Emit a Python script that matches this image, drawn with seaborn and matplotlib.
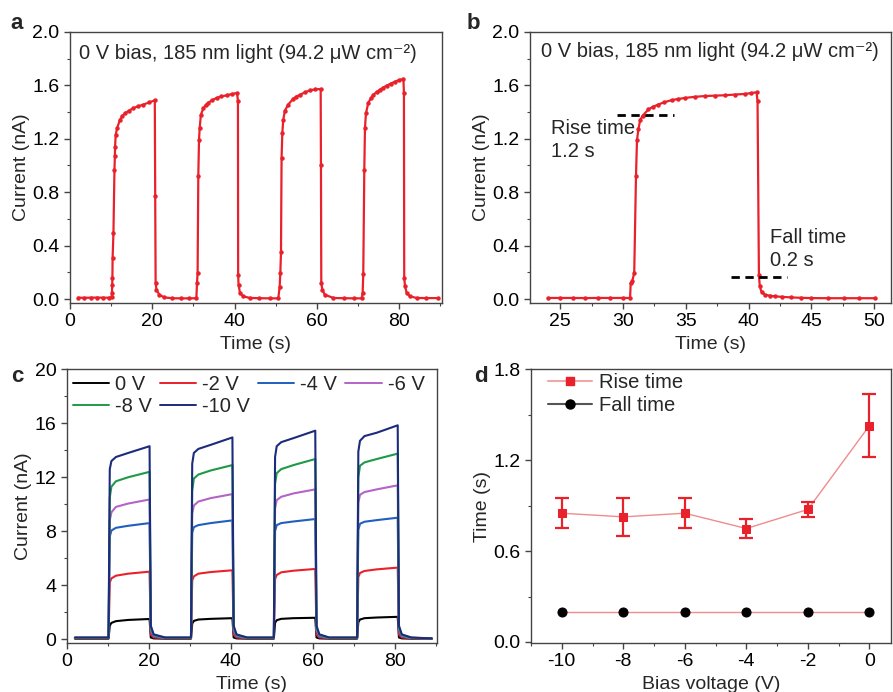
import matplotlib
matplotlib.use("Agg")
import matplotlib.pyplot as plt
from matplotlib.lines import Line2D
from matplotlib.ticker import MultipleLocator, FormatStrFormatter
import seaborn as sns
import pandas as pd

# ---------------- data ----------------
# panel a: 0 V bias, four on/off cycles (time s, current nA)
time_a = [2.0, 3.5, 5.0, 6.5, 8.0, 9.5, 10.1,
          10.2, 10.25, 10.3, 10.35, 10.55, 10.8, 10.9, 10.95, 11.1, 11.45, 12.1, 12.7, 13.3, 14.3, 15.4, 16.6, 17.8, 19.2, 20.6,
          20.7, 20.8, 21.0, 21.7, 22.9, 24.9, 27.0, 29.0, 30.7,
          30.85, 31.0, 31.17, 31.34, 31.5, 31.8, 32.4, 33.0, 33.6, 34.6, 35.6, 36.8, 38.1, 39.3, 40.6,
          40.8, 40.85, 40.95, 41.3, 42.1, 43.7, 46.0, 48.5, 50.6,
          50.93, 51.1, 51.26, 51.4, 51.58, 51.8, 52.2, 53.0, 54.25, 55.0, 55.9, 57.1, 58.3, 59.6, 60.9,
          60.97, 61.05, 61.3, 61.9, 64.0, 66.5, 69.0, 70.85,
          71.1, 71.25, 71.5, 71.66, 71.9, 72.47, 73.1, 73.7, 74.5, 75.3, 76.1, 76.9, 77.9, 78.95, 80.0, 81.0,
          81.13, 81.2, 81.4, 81.8, 82.6, 84.2, 86.5, 89.5]
current_a = [0.010, 0.009, 0.010, 0.011, 0.010, 0.010, 0.012,
             0.045, 0.107, 0.157, 0.307, 0.494, 0.969, 1.07, 1.14, 1.23, 1.28, 1.34, 1.37, 1.39, 1.41, 1.43, 1.444, 1.456, 1.472, 1.488,
             0.77, 0.12, 0.07, 0.032, 0.012, 0.006, 0.005, 0.005, 0.006,
             0.12, 0.195, 0.92, 1.19, 1.28, 1.38, 1.43, 1.452, 1.47, 1.49, 1.506, 1.517, 1.526, 1.535, 1.543,
             1.48, 0.18, 0.107, 0.045, 0.02, 0.008, 0.006, 0.005, 0.005,
             0.09, 0.195, 0.35, 1.056, 1.24, 1.34, 1.41, 1.456, 1.50, 1.516, 1.53, 1.548, 1.563, 1.57, 1.573,
             1.006, 0.12, 0.07, 0.032, 0.008, 0.006, 0.005, 0.005,
             0.045, 0.19, 0.964, 1.28, 1.39, 1.47, 1.503, 1.53, 1.55, 1.568, 1.584, 1.598, 1.613, 1.628, 1.64, 1.648,
             1.54, 0.157, 0.095, 0.045, 0.02, 0.008, 0.007, 0.007]

# panel b: single cycle
time_b = [24.07, 25.0, 26.0, 27.0, 28.0, 29.0, 30.0, 30.57,
          30.62, 30.75, 30.9, 31.04, 31.12, 31.23, 31.37, 31.57, 32.03, 32.4, 32.8, 33.3, 33.9, 34.4, 34.94, 35.7, 36.5,
          37.3, 38.1, 38.9, 39.7, 40.2, 40.64,
          40.72, 40.83, 40.9, 41.04, 41.3, 41.7, 42.1, 42.7, 43.4, 44.2, 45.0, 46.3, 47.6, 48.8, 50.05]
current_b = [0.008, 0.008, 0.008, 0.007, 0.008, 0.008, 0.008, 0.008,
             0.12, 0.137, 0.195, 0.92, 1.19, 1.27, 1.34, 1.373, 1.42, 1.44, 1.456, 1.474, 1.49, 1.498, 1.506, 1.514, 1.52,
             1.523, 1.526, 1.531, 1.536, 1.542, 1.548,
             1.48, 0.177, 0.095, 0.052, 0.032, 0.025, 0.02, 0.016, 0.012, 0.009, 0.007, 0.006, 0.006, 0.006, 0.006]
rise_mark_x = [29.5, 34.1]
rise_mark_y = [1.38, 1.38]
fall_mark_x = [38.6, 43.1]
fall_mark_y = [0.165, 0.165]

# panel c: bias-dependent photoresponse
time_c = [2.0,
          10.2, 10.5, 10.9, 12.0, 15.0, 20.2, 20.5, 21.2, 24.0,
          30.3, 30.6, 31.0, 32.1, 35.1, 40.4, 40.7, 41.4, 44.0,
          50.5, 50.8, 51.2, 52.3, 55.3, 60.6, 60.9, 61.6, 64.0,
          70.8, 71.1, 71.5, 72.6, 75.6, 80.7, 81.0, 81.7, 84.0,
          89.0]
cur_0V = [0.03,
          0.03, 1.0, 1.2, 1.33, 1.42, 1.49, 0.12, 0.05, 0.03,
          0.03, 1.15, 1.35, 1.45, 1.50, 1.55, 0.12, 0.05, 0.03,
          0.03, 1.2, 1.4, 1.5, 1.55, 1.58, 0.12, 0.05, 0.03,
          0.03, 1.25, 1.45, 1.55, 1.6, 1.65, 0.12, 0.05, 0.03,
          0.02]
cur_m2V = [0.06,
           0.06, 4.2, 4.5, 4.7, 4.85, 5.0, 0.35, 0.12, 0.06,
           0.06, 4.35, 4.65, 4.85, 4.97, 5.1, 0.35, 0.12, 0.06,
           0.06, 4.45, 4.75, 4.95, 5.07, 5.2, 0.35, 0.12, 0.06,
           0.06, 4.6, 4.9, 5.05, 5.17, 5.3, 0.35, 0.12, 0.06,
           0.02]
cur_m4V = [0.08,
           0.08, 7.6, 8.05, 8.25, 8.4, 8.6, 0.6, 0.2, 0.08,
           0.08, 7.9, 8.3, 8.45, 8.6, 8.8, 0.6, 0.2, 0.08,
           0.08, 8.0, 8.45, 8.6, 8.72, 8.9, 0.6, 0.2, 0.08,
           0.08, 8.1, 8.55, 8.7, 8.82, 9.0, 0.6, 0.2, 0.08,
           0.05]
cur_m6V = [0.09,
           0.09, 8.8, 9.4, 9.8, 10.05, 10.35, 0.7, 0.25, 0.09,
           0.09, 9.3, 9.9, 10.2, 10.45, 10.75, 0.7, 0.25, 0.09,
           0.09, 9.7, 10.3, 10.55, 10.8, 11.1, 0.7, 0.25, 0.09,
           0.09, 10.1, 10.7, 10.9, 11.1, 11.4, 0.7, 0.25, 0.09,
           0.05]
cur_m8V = [0.1,
           0.1, 10.5, 11.3, 11.7, 12.0, 12.4, 0.85, 0.3, 0.1,
           0.1, 11.0, 11.9, 12.2, 12.5, 12.9, 0.85, 0.3, 0.1,
           0.1, 11.5, 12.3, 12.6, 12.9, 13.35, 0.85, 0.3, 0.1,
           0.1, 12.0, 12.85, 13.1, 13.35, 13.75, 0.85, 0.3, 0.1,
           0.05]
cur_m10V = [0.12,
            0.12, 12.6, 13.2, 13.5, 13.8, 14.3, 1.0, 0.35, 0.12,
            0.12, 13.0, 13.8, 14.1, 14.4, 14.95, 1.0, 0.35, 0.12,
            0.12, 13.5, 14.3, 14.6, 14.9, 15.45, 1.0, 0.35, 0.12,
            0.12, 13.9, 14.7, 15.05, 15.3, 15.85, 1.0, 0.35, 0.12,
            0.05]
labels_c = ["0 V", "-2 V", "-4 V", "-6 V", "-8 V", "-10 V"]
colors_c = ["#000000", "#e8212b", "#1f5fbf", "#b463c6", "#1e9a46", "#1c2c7c"]

# panel d: rise / fall time vs bias
bias_d = [-10, -8, -6, -4, -2, 0]
rise_d = [0.85, 0.826, 0.85, 0.749, 0.875, 1.428]
rise_err = [0.10, 0.127, 0.10, 0.06, 0.05, 0.208]
fall_d = [0.2, 0.2, 0.2, 0.2, 0.2, 0.2]

# ---------------- style ----------------
sns.set_style("ticks")
plt.rcParams["font.family"] = ["Liberation Sans", "DejaVu Sans"]
plt.rcParams["axes.unicode_minus"] = False

RED = "#e8212b"
PINK = "#f08c8c"
TICK = 14
LAB = 14
TXT = 14.5

fig = plt.figure(figsize=(8.93, 6.92), dpi=100)
ax_a = fig.add_axes([0.0784, 0.5621, 0.4162, 0.3917])
ax_b = fig.add_axes([0.5935, 0.5621, 0.4043, 0.3917])
ax_c = fig.add_axes([0.0747, 0.0712, 0.4143, 0.3951])
ax_d = fig.add_axes([0.5946, 0.0712, 0.4031, 0.3951])


def style(ax):
    for s in ax.spines.values():
        s.set_color("#444444")
        s.set_linewidth(1.0)
    ax.tick_params(which="both", direction="out", colors="#444444",
                   labelcolor="black", labelsize=TICK, top=False, right=False)
    ax.tick_params(which="major", length=4, width=1)
    ax.tick_params(which="minor", length=2.5, width=0.8)


TITLE = "0 V bias, 185 nm light (94.2 μW cm\u207b\u00b2)"

# panel a
df_a = pd.DataFrame({"t": time_a, "i": current_a})
sns.lineplot(data=df_a, x="t", y="i", ax=ax_a, sort=False, estimator=None,
             color=RED, lw=1.6, marker="o", markersize=3.2, markeredgewidth=0)
ax_a.set_xlim(0, 90.3)
ax_a.set_ylim(-0.03, 2.0)
ax_a.xaxis.set_major_locator(MultipleLocator(20))
ax_a.xaxis.set_minor_locator(MultipleLocator(10))
ax_a.yaxis.set_major_locator(MultipleLocator(0.4))
ax_a.yaxis.set_minor_locator(MultipleLocator(0.2))
ax_a.yaxis.set_major_formatter(FormatStrFormatter("%.1f"))
ax_a.set_xlabel("Time (s)", fontsize=LAB)
ax_a.set_ylabel("Current (nA)", fontsize=LAB, labelpad=2)
ax_a.text(0.024, 1.84, TITLE, transform=ax_a.get_yaxis_transform(),
          fontsize=TXT, va="center", ha="left")
style(ax_a)

# panel b
df_b = pd.DataFrame({"t": time_b, "i": current_b})
sns.lineplot(data=df_b, x="t", y="i", ax=ax_b, sort=False, estimator=None,
             color=RED, lw=1.6, marker="o", markersize=3.2, markeredgewidth=0)
sns.lineplot(x=rise_mark_x, y=rise_mark_y, ax=ax_b, color="black", lw=2, linestyle=(0, (3, 2)))
sns.lineplot(x=fall_mark_x, y=fall_mark_y, ax=ax_b, color="black", lw=2, linestyle=(0, (3, 2)))
ax_b.set_xlim(22.6, 51.35)
ax_b.set_ylim(-0.03, 2.0)
ax_b.xaxis.set_major_locator(MultipleLocator(5))
ax_b.xaxis.set_minor_locator(MultipleLocator(2.5))
ax_b.yaxis.set_major_locator(MultipleLocator(0.4))
ax_b.yaxis.set_minor_locator(MultipleLocator(0.2))
ax_b.yaxis.set_major_formatter(FormatStrFormatter("%.1f"))
ax_b.set_xlabel("Time (s)", fontsize=LAB)
ax_b.set_ylabel("Current (nA)", fontsize=LAB, labelpad=2)
ax_b.text(0.03, 1.85, TITLE, transform=ax_b.get_yaxis_transform(),
          fontsize=TXT, va="center", ha="left")
ax_b.text(24.3, 1.19, "Rise time\n1.2 s", fontsize=TXT, va="center", ha="left", linespacing=1.25)
ax_b.text(41.7, 0.375, "Fall time\n0.2 s", fontsize=TXT, va="center", ha="left", linespacing=1.25)
style(ax_b)

# panel c
series_c = [cur_0V, cur_m2V, cur_m4V, cur_m6V, cur_m8V, cur_m10V]
rows = []
for lab, vals in zip(labels_c, series_c):
    for t, v in zip(time_c, vals):
        rows.append({"t": t, "i": v, "bias": lab})
df_c = pd.DataFrame(rows)
sns.lineplot(data=df_c, x="t", y="i", hue="bias", hue_order=labels_c,
             palette=colors_c, ax=ax_c, sort=False, estimator=None, lw=1.5, legend=False)
ax_c.set_xlim(0, 90.2)
ax_c.set_ylim(-0.27, 20)
ax_c.xaxis.set_major_locator(MultipleLocator(20))
ax_c.xaxis.set_minor_locator(MultipleLocator(10))
ax_c.yaxis.set_major_locator(MultipleLocator(4))
ax_c.yaxis.set_minor_locator(MultipleLocator(2))
ax_c.set_xlabel("Time (s)", fontsize=LAB)
ax_c.set_ylabel("Current (nA)", fontsize=LAB, labelpad=2)
handles = [Line2D([], [], color=c, lw=1.4) for c in colors_c]
order = [0, 4, 1, 5, 2, 3]
ax_c.legend([handles[k] for k in order], [labels_c[k] for k in order], ncol=4,
            loc="upper left", frameon=False, fontsize=TXT, handlelength=1.8,
            handletextpad=0.3, columnspacing=0.4, labelspacing=0.15,
            borderaxespad=0.2, borderpad=0.1)
style(ax_c)

# panel d
sns.lineplot(x=bias_d, y=rise_d, ax=ax_d, color=PINK, lw=1.0, marker="s",
             markersize=5.8, markerfacecolor=RED, markeredgecolor=RED)
ax_d.errorbar(bias_d, rise_d, yerr=rise_err, fmt="none", ecolor=RED,
              elinewidth=1.6, capsize=4.7, capthick=1.6)
sns.lineplot(x=bias_d, y=fall_d, ax=ax_d, color=PINK, lw=1.0, marker="o",
             markersize=6.5, markerfacecolor="black", markeredgecolor="black")
ax_d.set_xlim(-11.0, 0.7)
ax_d.set_ylim(-0.005, 1.8)
ax_d.xaxis.set_major_locator(MultipleLocator(2))
ax_d.xaxis.set_minor_locator(MultipleLocator(1))
ax_d.yaxis.set_major_locator(MultipleLocator(0.6))
ax_d.yaxis.set_minor_locator(MultipleLocator(0.3))
ax_d.yaxis.set_major_formatter(FormatStrFormatter("%.1f"))
ax_d.set_xlabel("Bias voltage (V)", fontsize=LAB)
ax_d.set_ylabel("Time (s)", fontsize=LAB, labelpad=2)
hd = [Line2D([], [], color="#f4a6a6", lw=1.5, marker="s", markersize=5.8,
             markerfacecolor=RED, markeredgecolor=RED),
      Line2D([], [], color="#555555", lw=1.5, marker="o", markersize=6.5,
             markerfacecolor="black", markeredgecolor="black")]
ax_d.legend(hd, ["Rise time", "Fall time"], loc="upper left", frameon=False,
            fontsize=TXT, handlelength=2.2, handletextpad=0.35, labelspacing=0.2,
            borderaxespad=0.1, borderpad=0.1, bbox_to_anchor=(0.035, 1.0))
style(ax_d)

# panel letters
for lab, x, y in [("a", 0.012, 0.958), ("b", 0.523, 0.958), ("c", 0.013, 0.448), ("d", 0.531, 0.448)]:
    fig.text(x, y, lab, fontsize=16, fontweight="bold", ha="left", va="baseline")

fig.savefig("out.png", dpi=100)
